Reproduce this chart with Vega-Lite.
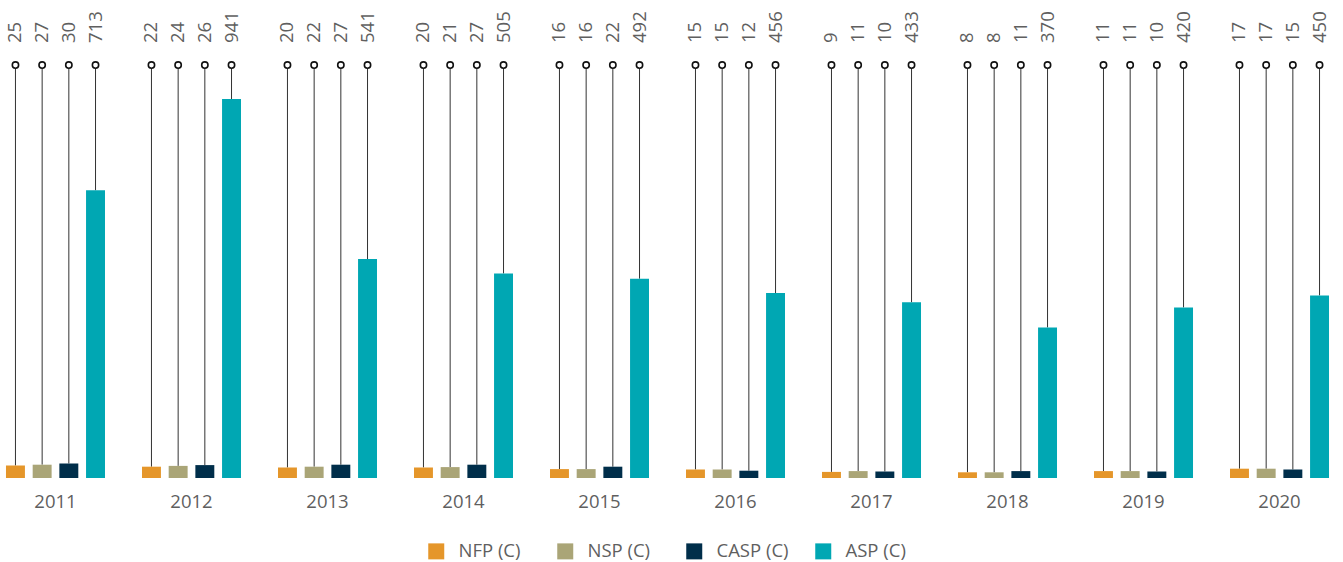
{
  "$schema": "https://vega.github.io/schema/vega-lite/v6.json",
  "width": 1335,
  "height": 478,
  "autosize": {"type": "none"},
  "padding": {"left": 0, "top": 0, "right": 8, "bottom": 84},
  "config": {
    "view": {"stroke": null},
    "font": "Open Sans",
    "text": {"font": "Open Sans"}
  },
  "data": {
    "values": [
      {"year": "2011", "series": "NFP (C)", "value": 25},
      {"year": "2011", "series": "NSP (C)", "value": 27},
      {"year": "2011", "series": "CASP (C)", "value": 30},
      {"year": "2011", "series": "ASP (C)", "value": 713},
      {"year": "2012", "series": "NFP (C)", "value": 22},
      {"year": "2012", "series": "NSP (C)", "value": 24},
      {"year": "2012", "series": "CASP (C)", "value": 26},
      {"year": "2012", "series": "ASP (C)", "value": 941},
      {"year": "2013", "series": "NFP (C)", "value": 20},
      {"year": "2013", "series": "NSP (C)", "value": 22},
      {"year": "2013", "series": "CASP (C)", "value": 27},
      {"year": "2013", "series": "ASP (C)", "value": 541},
      {"year": "2014", "series": "NFP (C)", "value": 20},
      {"year": "2014", "series": "NSP (C)", "value": 21},
      {"year": "2014", "series": "CASP (C)", "value": 27},
      {"year": "2014", "series": "ASP (C)", "value": 505},
      {"year": "2015", "series": "NFP (C)", "value": 16},
      {"year": "2015", "series": "NSP (C)", "value": 16},
      {"year": "2015", "series": "CASP (C)", "value": 22},
      {"year": "2015", "series": "ASP (C)", "value": 492},
      {"year": "2016", "series": "NFP (C)", "value": 15},
      {"year": "2016", "series": "NSP (C)", "value": 15},
      {"year": "2016", "series": "CASP (C)", "value": 12},
      {"year": "2016", "series": "ASP (C)", "value": 456},
      {"year": "2017", "series": "NFP (C)", "value": 9},
      {"year": "2017", "series": "NSP (C)", "value": 11},
      {"year": "2017", "series": "CASP (C)", "value": 10},
      {"year": "2017", "series": "ASP (C)", "value": 433},
      {"year": "2018", "series": "NFP (C)", "value": 8},
      {"year": "2018", "series": "NSP (C)", "value": 8},
      {"year": "2018", "series": "CASP (C)", "value": 11},
      {"year": "2018", "series": "ASP (C)", "value": 370},
      {"year": "2019", "series": "NFP (C)", "value": 11},
      {"year": "2019", "series": "NSP (C)", "value": 11},
      {"year": "2019", "series": "CASP (C)", "value": 10},
      {"year": "2019", "series": "ASP (C)", "value": 420},
      {"year": "2020", "series": "NFP (C)", "value": 17},
      {"year": "2020", "series": "NSP (C)", "value": 17},
      {"year": "2020", "series": "CASP (C)", "value": 15},
      {"year": "2020", "series": "ASP (C)", "value": 450}
    ]
  },
  "encoding": {
    "x": {
      "field": "year",
      "type": "nominal",
      "scale": {"paddingInner": 0.272, "paddingOuter": 0.044},
      "axis": {
        "title": null,
        "domain": false,
        "ticks": false,
        "labelAngle": 0,
        "labelFontSize": 18.5,
        "labelColor": "#5f5f5f",
        "labelPadding": 14,
        "labelFont": "Open Sans"
      }
    },
    "xOffset": {
      "field": "series",
      "type": "nominal",
      "sort": ["NFP (C)", "NSP (C)", "CASP (C)", "ASP (C)"],
      "scale": {"paddingInner": 0.29, "paddingOuter": 0}
    }
  },
  "layer": [
    {
      "mark": {"type": "rule", "color": "#333333", "strokeWidth": 1},
      "encoding": {
        "y": {"field": "value", "type": "quantitative", "scale": {"domain": [-6.25, 1188.5], "nice": false, "zero": false}, "axis": null},
        "y2": {"datum": 1026}
      }
    },
    {
      "mark": {"type": "bar"},
      "encoding": {
        "y": {"field": "value", "type": "quantitative"},
        "y2": {"datum": -6.25},
        "color": {
          "field": "series",
          "type": "nominal",
          "sort": ["NFP (C)", "NSP (C)", "CASP (C)", "ASP (C)"],
          "scale": {
            "domain": ["NFP (C)", "NSP (C)", "CASP (C)", "ASP (C)"],
            "range": ["#e5962a", "#aaa577", "#002e4a", "#00a7b3"]
          },
          "legend": {
            "title": null,
            "orient": "none",
            "legendX": 427,
            "legendY": 542,
            "padding": 0,
            "direction": "horizontal",
            "symbolType": "square",
            "symbolSize": 256,
            "symbolStrokeWidth": 0,
            "labelFontSize": 18.5,
            "labelColor": "#5f5f5f",
            "labelFont": "Open Sans",
            "labelOffset": 13,
            "gridAlign": "all",
            "columnPadding": 25
          }
        }
      }
    },
    {
      "mark": {"type": "point", "filled": true, "fill": "white", "stroke": "#111111", "strokeWidth": 1.6, "size": 40, "opacity": 1},
      "encoding": {
        "y": {"datum": 1026}
      }
    },
    {
      "mark": {"type": "text", "angle": 270, "align": "left", "baseline": "middle", "dx": 22, "fontSize": 18.5, "color": "#5f5f5f", "font": "Open Sans"},
      "encoding": {
        "y": {"datum": 1026},
        "text": {"field": "value", "type": "quantitative"}
      }
    }
  ]
}
